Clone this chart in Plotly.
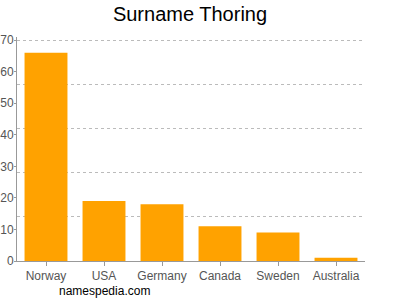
import plotly.graph_objects as go

countries = ["Norway", "USA", "Germany", "Canada", "Sweden", "Australia"]
counts = [66, 19, 18, 11, 9, 1]
y_ticks = [0, 10, 20, 30, 40, 50, 60, 70]
grid_vals = [14, 28, 42, 56, 70]

fig = go.Figure()
fig.add_trace(go.Bar(x=countries, y=counts, marker=dict(color="#FFA200", line=dict(width=0)),
                     hoverinfo="skip"))
fig.add_trace(go.Scatter(x=countries, y=counts, yaxis="y2", mode="markers",
                         marker=dict(opacity=0), hoverinfo="skip", showlegend=False))

fig.update_layout(
    width=400, height=300,
    margin=dict(l=17, r=35, t=37, b=39),
    paper_bgcolor="white", plot_bgcolor="white",
    showlegend=False,
    bargap=0.26,
    font=dict(family="Liberation Sans, Arial, sans-serif", color="#555555", size=12),
    title=dict(text="Surname Thoring", x=0.475, xanchor="center", y=0.953, yanchor="middle",
               font=dict(size=20, color="black")),
    xaxis=dict(showline=True, linecolor="#999999", linewidth=1, ticks="outside",
               ticklen=4, tickcolor="#999999", showgrid=False, automargin=False,
               tickfont=dict(size=12, color="#555555")),
    yaxis=dict(range=[0, 71], tickvals=y_ticks, showgrid=False, zeroline=False,
               showline=True, linecolor="#999999", linewidth=1, ticks="outside",
               ticklen=2, tickcolor="#999999", automargin=False, ticklabelstandoff=-2,
               tickfont=dict(size=12, color="#555555")),
    yaxis2=dict(range=[0, 71], overlaying="y", tickvals=grid_vals, showgrid=True,
                gridcolor="#bbbbbb", griddash="3px,3px", gridwidth=1, automargin=False,
                showticklabels=False, zeroline=False, showline=False, ticks=""),
    annotations=[dict(text="namespedia.com", x=0.25, y=-0.136, xref="paper", yref="paper",
                      xanchor="center", yanchor="middle",
                      showarrow=False, font=dict(size=12, color="black"))],
)
fig.write_html("out.html")
